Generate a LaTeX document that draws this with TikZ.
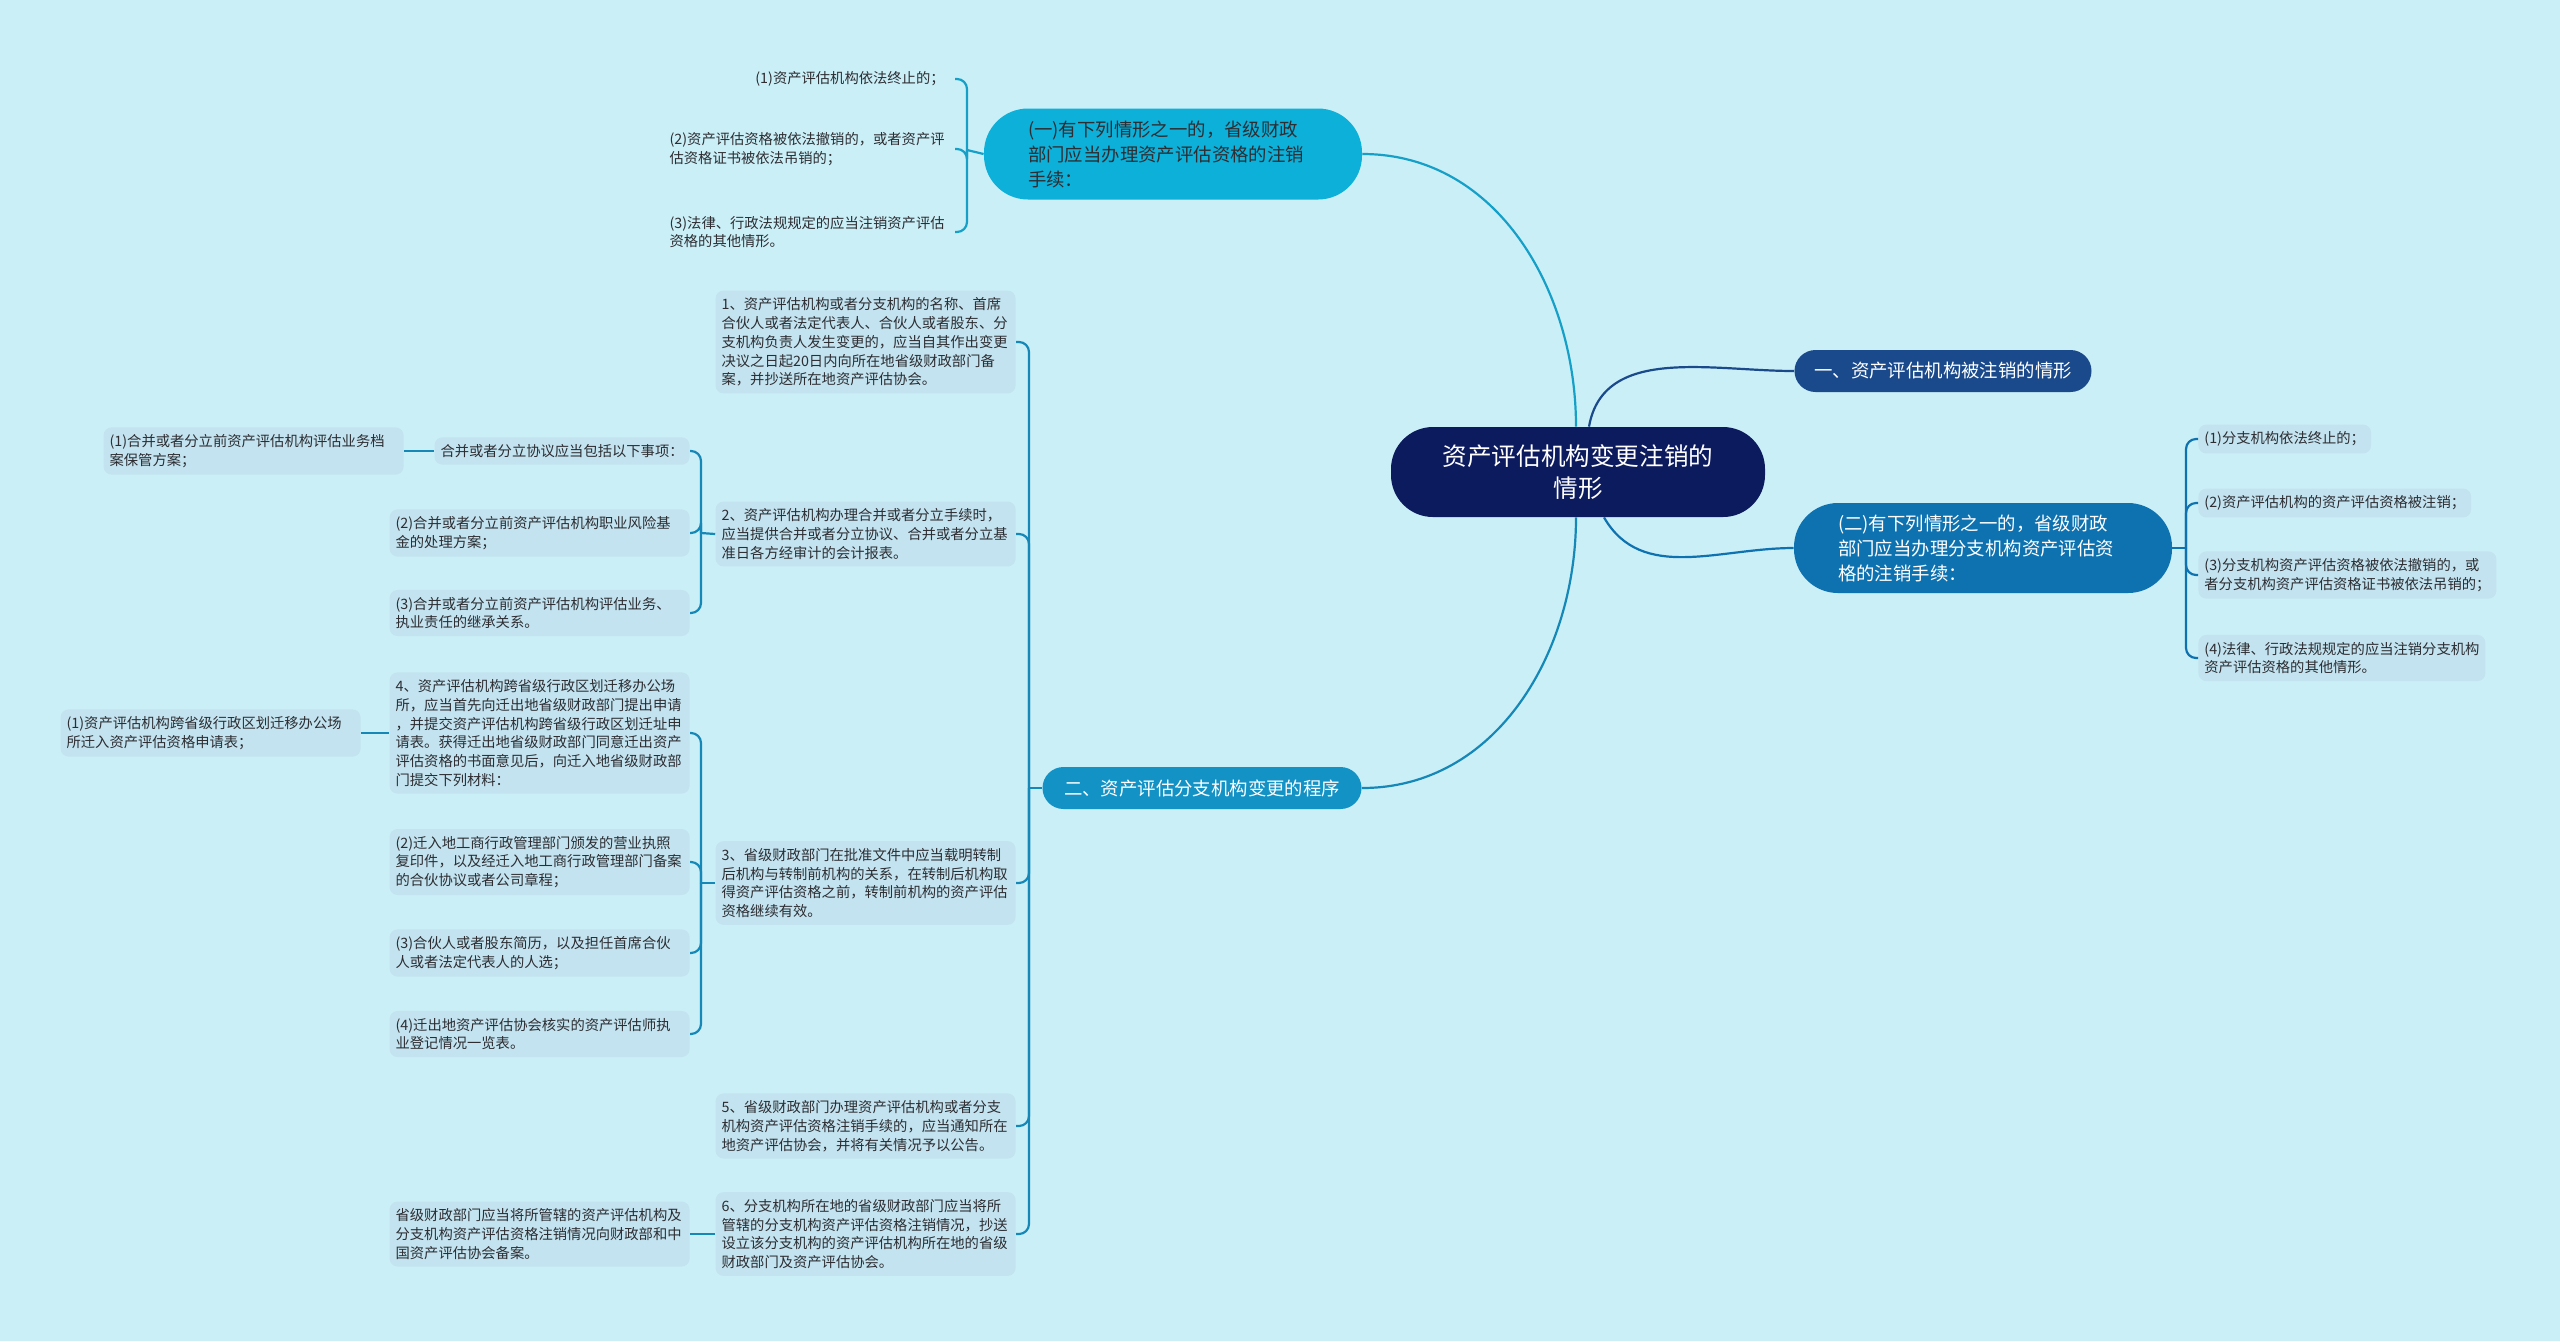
\documentclass[tikz,border=0pt]{standalone}
\usepackage{fontspec}
\setmainfont{Noto Sans CJK SC}
\usetikzlibrary{calc}

\definecolor{bgcyan}{RGB}{202,239,247}
\definecolor{leafbox}{RGB}{194,227,239}
\definecolor{leaftext}{RGB}{45,45,50}
\definecolor{rootnavy}{RGB}{12,26,94}
\definecolor{topblue}{RGB}{26,74,140}
\definecolor{midblue}{RGB}{14,114,176}
\definecolor{skycyan}{RGB}{12,176,216}
\definecolor{tealblue}{RGB}{19,146,198}
\definecolor{cyanline}{RGB}{22,160,200}
\definecolor{tealline}{RGB}{22,136,184}

\begin{document}
\begin{tikzpicture}[
            x=0.5pt, y=-0.5pt,
            leaf/.style={fill=leafbox, rounded corners=4pt, inner xsep=3pt, inner ysep=3.5pt,
                         align=left, text=leaftext, font=\fontsize{7.15}{9.4}\selectfont},
            wideleaf/.style={leaf, text width=144pt},
            bare/.style={align=left, inner xsep=5pt, inner ysep=2pt, text=leaftext,
                         font=\fontsize{7.15}{9.4}\selectfont},
            branchfont/.style={font=\fontsize{9.2}{12.5}\selectfont},
            link/.style={line width=1.1pt, #1},
            bracket/.style={line width=1.1pt, #1, rounded corners=5pt},
                           ]
            % 0. Background and page size
            \fill[bgcyan] (0,0) rectangle (2560,1341);
            \useasboundingbox (0,0) rectangle (2560,1341);

            % 1. Root and the four main branches
            \node[fill=rootnavy, text=white, rounded corners=21pt, minimum width=187pt, minimum height=45pt,
                  align=center, font=\fontsize{12.3}{15.8}\selectfont] (root) at (1578,472) {资产评估机构变更注销的\\情形};
            \node[fill=topblue, text=white, rounded corners=10.5pt, minimum width=148.5pt, minimum height=21pt,
                  branchfont] (cancel) at (1943,371) {一、资产评估机构被注销的情形};
            \node[fill=midblue, text=white, rounded corners=22pt, text width=145pt, inner xsep=22pt, minimum height=45pt,
                  align=left, branchfont] (branchcase) at (1983,548) {(二)有下列情形之一的，省级财政\\部门应当办理分支机构资产评估资\\格的注销手续：};
            \node[fill=skycyan, text=leaftext, rounded corners=22pt, text width=145pt, inner xsep=22pt, minimum height=45.5pt,
                  align=left, branchfont] (orgcase) at (1173,154) {(一)有下列情形之一的，省级财政\\部门应当办理资产评估资格的注销\\手续：};
            \node[fill=tealblue, text=white, rounded corners=10.5pt, minimum width=159.5pt, minimum height=21pt,
                  branchfont] (procedure) at (1202,788) {二、资产评估分支机构变更的程序};

            \draw[link=topblue]  ($(root.north)+(11,0)$) to[out=80,in=180] (cancel.west);
            \draw[link=midblue]  ($(root.south)+(26,0)$) to[out=-60,in=180] (branchcase.west);
            \draw[link=cyanline] (orgcase.east) to[out=0,in=90] ($(root.north)+(-2,0)$);
            \draw[link=tealline] (procedure.east) to[out=0,in=-90] ($(root.south)+(-2,0)$);

            % 2. Leaves of (二)
            \node[leaf, anchor=west] (case_1) at (2198,439) {(1)分支机构依法终止的；};
            \node[leaf, anchor=west] (case_2) at (2198,503) {(2)资产评估机构的资产评估资格被注销；};
            \node[leaf, anchor=west] (case_3) at (2198,575) {(3)分支机构资产评估资格被依法撤销的，或\\者分支机构资产评估资格证书被依法吊销的；};
            \node[leaf, anchor=west] (case_4) at (2198,658) {(4)法律、行政法规规定的应当注销分支机构\\资产评估资格的其他情形。};
            \coordinate (case_j) at (2186,548);
            \draw[link=midblue] (branchcase.east) -- (case_j);
            \foreach \n in {case_1,case_2,case_3,case_4} {
                \draw[bracket=midblue] (case_j) |- (\n.west);
            }

            % 3. Leaves of (一)
            \node[bare, anchor=east] (org_1) at (955,79) {(1)资产评估机构依法终止的；};
            \node[bare, anchor=east] (org_2) at (955,149) {(2)资产评估资格被依法撤销的，或者资产评\\估资格证书被依法吊销的；};
            \node[bare, anchor=east] (org_3) at (955,232) {(3)法律、行政法规规定的应当注销资产评估\\资格的其他情形。};
            \coordinate (org_j) at (967,150);
            \draw[link=cyanline] (orgcase.west) -- (org_j);
            \foreach \n in {org_1,org_2,org_3} {
                \draw[bracket=cyanline] (org_j) |- (\n.east);
            }

            % 4. Steps of the procedure
            \node[wideleaf, anchor=east] (step_1) at (1016,342) {1、资产评估机构或者分支机构的名称、首席\\合伙人或者法定代表人、合伙人或者股东、分\\支机构负责人发生变更的，应当自其作出变更\\决议之日起20日内向所在地省级财政部门备\\案，并抄送所在地资产评估协会。};
            \node[wideleaf, anchor=east] (step_2) at (1016,534) {2、资产评估机构办理合并或者分立手续时，\\应当提供合并或者分立协议、合并或者分立基\\准日各方经审计的会计报表。};
            \node[wideleaf, anchor=east] (step_3) at (1016,883) {3、省级财政部门在批准文件中应当载明转制\\后机构与转制前机构的关系，在转制后机构取\\得资产评估资格之前，转制前机构的资产评估\\资格继续有效。};
            \node[wideleaf, anchor=east] (step_5) at (1016,1126) {5、省级财政部门办理资产评估机构或者分支\\机构资产评估资格注销手续的，应当通知所在\\地资产评估协会，并将有关情况予以公告。};
            \node[wideleaf, anchor=east] (step_6) at (1016,1234) {6、分支机构所在地的省级财政部门应当将所\\管辖的分支机构资产评估资格注销情况，抄送\\设立该分支机构的资产评估机构所在地的省级\\财政部门及资产评估协会。};
            \coordinate (proc_j) at (1029,788);
            \draw[link=tealline] (procedure.west) -- (proc_j);
            \foreach \n in {step_1,step_2,step_3,step_5,step_6} {
                \draw[bracket=tealline] (proc_j) |- (\n.east);
            }

            % 5. Merger or split (step 2)
            \node[leaf, anchor=east] (merge_a) at (690,451) {合并或者分立协议应当包括以下事项：};
            \node[wideleaf, anchor=east] (merge_2) at (690,533) {(2)合并或者分立前资产评估机构职业风险基\\金的处理方案；};
            \node[wideleaf, anchor=east] (merge_3) at (690,613) {(3)合并或者分立前资产评估机构评估业务、\\执业责任的继承关系。};
            \node[wideleaf, anchor=east] (merge_1) at (404,451) {(1)合并或者分立前资产评估机构评估业务档\\案保管方案；};
            \coordinate (merge_j) at (701,533);
            \draw[link=tealline] (step_2.west) -- (merge_j);
            \foreach \n in {merge_a,merge_2,merge_3} {
                \draw[bracket=tealline] (merge_j) |- (\n.east);
            }
            \draw[link=tealline] (merge_a.west) -- (merge_1.east);

            % 6. Moving office (step 3)
            \node[wideleaf, anchor=east] (step_4) at (690,733) {4、资产评估机构跨省级行政区划迁移办公场\\所，应当首先向迁出地省级财政部门提出申请\\，并提交资产评估机构跨省级行政区划迁址申\\请表。获得迁出地省级财政部门同意迁出资产\\评估资格的书面意见后，向迁入地省级财政部\\门提交下列材料：};
            \node[wideleaf, anchor=east] (move_2) at (690,862) {(2)迁入地工商行政管理部门颁发的营业执照\\复印件，以及经迁入地工商行政管理部门备案\\的合伙协议或者公司章程；};
            \node[wideleaf, anchor=east] (move_3) at (690,953) {(3)合伙人或者股东简历，以及担任首席合伙\\人或者法定代表人的人选；};
            \node[wideleaf, anchor=east] (move_4) at (690,1034) {(4)迁出地资产评估协会核实的资产评估师执\\业登记情况一览表。};
            \node[wideleaf, anchor=east] (move_1) at (361,733) {(1)资产评估机构跨省级行政区划迁移办公场\\所迁入资产评估资格申请表；};
            \coordinate (move_j) at (701,883);
            \draw[link=tealline] (step_3.west) -- (move_j);
            \foreach \n in {step_4,move_2,move_3,move_4} {
                \draw[bracket=tealline] (move_j) |- (\n.east);
            }
            \draw[link=tealline] (step_4.west) -- (move_1.east);

            % 7. Report of step 6
            \node[wideleaf, anchor=east] (report) at (690,1234) {省级财政部门应当将所管辖的资产评估机构及\\分支机构资产评估资格注销情况向财政部和中\\国资产评估协会备案。};
            \draw[link=tealline] (step_6.west) -- (report.east);

        \end{tikzpicture}
\end{document}
